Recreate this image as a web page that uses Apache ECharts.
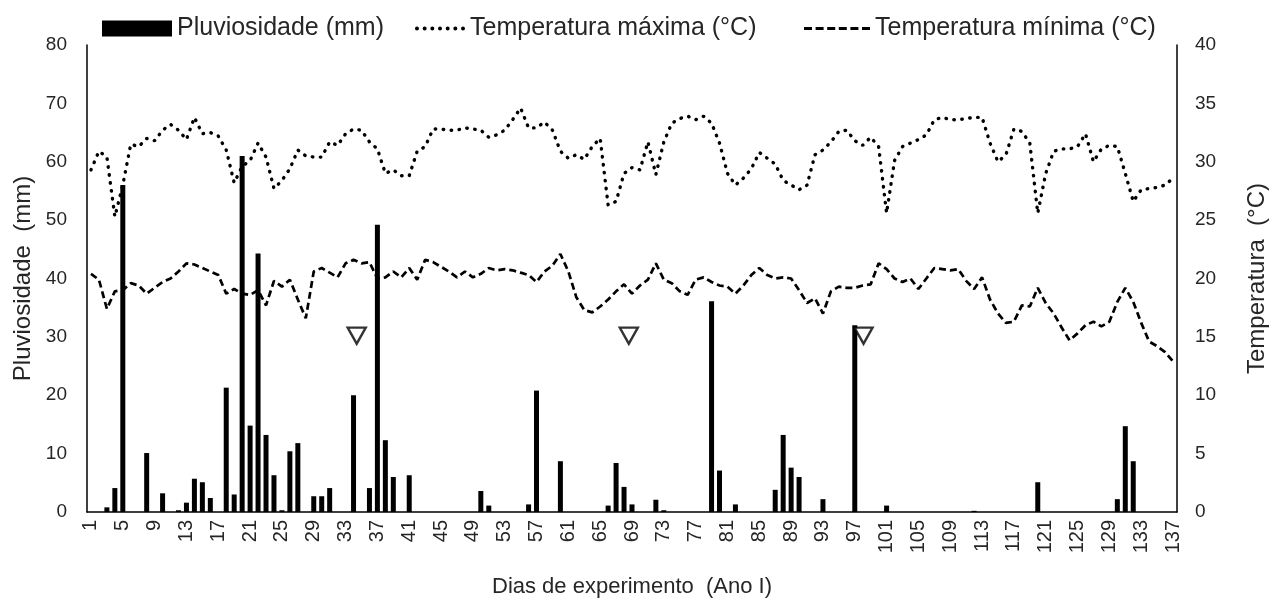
<!DOCTYPE html>
<html>
<head>
<meta charset="utf-8">
<script src="https://cdn.jsdelivr.net/npm/echarts@6/dist/echarts.min.js"></script>
<style>
html,body{margin:0;padding:0;background:#fff;}
#chart{width:1278px;height:608px;}
</style>
</head>
<body>
<div id="chart"></div>
<script>
// ---- data ----
const days = [];
for (let d = 1; d <= 137; d++) days.push(String(d));

const rain = [
  0, 0, 0.8, 4.1, 56, 0, 0, 10.1, 0, 3.2,
  0, 0.3, 1.6, 5.7, 5.1, 2.4, 0, 21.3, 3.0, 61,
  14.8, 44.3, 13.2, 6.3, 0.3, 10.4, 11.8, 0, 2.7, 2.7,
  4.1, 0, 0, 20, 0, 4.1, 49.2, 12.3, 6.0, 0,
  6.3, 0, 0, 0, 0, 0, 0, 0, 0, 3.6,
  1.1, 0, 0, 0, 0, 1.3, 20.8, 0, 0, 8.7,
  0, 0, 0, 0, 0, 1.1, 8.4, 4.3, 1.3, 0,
  0, 2.1, 0.3, 0, 0, 0, 0, 0, 36.1, 7.1,
  0, 1.3, 0, 0, 0, 0, 3.8, 13.2, 7.6, 6.0,
  0, 0, 2.2, 0, 0, 0, 32, 0, 0, 0,
  1.1, 0, 0, 0, 0, 0, 0, 0, 0, 0,
  0, 0.2, 0, 0, 0, 0, 0, 0, 0, 5.1,
  0, 0, 0, 0, 0, 0, 0, 0, 0, 2.2,
  14.7, 8.7, 0, 0, 0, 0, 0
];

const tmax = [
  29.3, 30.9, 30.4, 25.3, 28.0, 31.5, 31.3, 32.0, 31.8, 32.7,
  33.2, 32.7, 31.9, 33.8, 32.4, 32.5, 32.2, 31.0, 28.2, 29.6,
  30.1, 31.6, 30.4, 27.7, 28.4, 29.4, 31.0, 30.5, 30.4, 30.4,
  31.7, 31.4, 32.4, 32.8, 32.7, 31.7, 31.1, 29.0, 29.3, 28.8,
  28.8, 30.9, 31.3, 32.8, 32.8, 32.7, 32.7, 32.9, 32.8, 32.7,
  32.1, 32.3, 32.7, 33.6, 34.6, 32.9, 32.9, 33.4, 32.7, 30.9,
  30.3, 30.6, 30.2, 31.3, 32.0, 26.3, 26.6, 29.0, 29.5, 29.3,
  31.7, 28.9, 31.7, 33.3, 33.7, 33.9, 33.6, 33.9, 33.3, 31.6,
  29.0, 28.0, 28.6, 29.4, 30.8, 30.3, 29.8, 28.4, 28.0, 27.6,
  28.0, 30.6, 31.0, 31.7, 32.6, 32.7, 31.8, 31.4, 32.1, 31.3,
  25.6, 30.1, 31.3, 31.6, 31.9, 32.3, 33.6, 33.8, 33.6, 33.6,
  33.7, 33.8, 33.8, 31.6, 30.0, 30.6, 32.8, 32.6, 31.6, 25.6,
  29.0, 30.9, 31.1, 31.1, 31.3, 32.4, 30.0, 31.1, 31.4, 31.3,
  29.0, 26.6, 27.6, 27.7, 27.8, 28.0, 28.6
];

const tmin = [
  20.4, 19.9, 17.4, 18.9, 19.0, 19.6, 19.4, 18.7, 19.2, 19.7,
  20.0, 20.6, 21.3, 21.2, 20.9, 20.6, 20.3, 18.7, 19.1, 18.7,
  18.6, 19.0, 17.7, 19.8, 19.3, 19.9, 18.2, 16.6, 20.6, 20.9,
  20.5, 20.1, 21.3, 21.6, 21.3, 21.4, 20.0, 20.1, 20.6, 20.1,
  20.9, 19.9, 21.6, 21.4, 21.0, 20.6, 20.1, 20.6, 20.1, 20.4,
  20.9, 20.7, 20.8, 20.7, 20.5, 20.3, 19.7, 20.6, 21.1, 22.1,
  20.6, 18.4, 17.3, 17.1, 17.6, 18.2, 18.9, 19.5, 18.7, 19.4,
  19.9, 21.3, 19.9, 19.6, 18.9, 18.6, 19.9, 20.1, 19.7, 19.4,
  19.3, 18.7, 19.4, 20.3, 20.9, 20.3, 20.0, 20.1, 20.0, 19.0,
  17.9, 18.3, 17.0, 18.9, 19.3, 19.2, 19.2, 19.4, 19.5, 21.3,
  20.8, 20.0, 19.7, 20.0, 19.1, 20.0, 20.9, 20.8, 20.7, 20.8,
  19.8, 19.1, 20.1, 18.2, 17.0, 16.2, 16.3, 17.7, 17.6, 19.2,
  17.9, 17.0, 15.8, 14.7, 15.3, 16.0, 16.3, 15.9, 16.3, 18.0,
  19.2, 18.0, 16.2, 14.6, 14.2, 13.7, 12.9
];

// event markers (day position, rainfall-axis level)
const markerDays = [34.4, 68.6, 98.1];
const markerLevel = [30.2, 30.2, 30.2];

const rainTicks = { min: 0, max: 80, interval: 10 };
const tempTicks = { min: 0, max: 40, interval: 5 };

const names = {
  rain: 'Pluviosidade (mm)',
  tmax: 'Temperatura máxima (°C)',
  tmin: 'Temperatura mínima (°C)',
  x: 'Dias de experimento  (Ano I)',
  yl: 'Pluviosidade  (mm)',
  yr: 'Temperatura  (°C)'
};

// ---- legend icons (dotted / dashed line glyphs) ----
function dotIcon(n, d, step) {
  let p = 'path://';
  for (let i = 0; i < n; i++) {
    const cx = d / 2 + i * step, r = d / 2;
    p += 'M' + (cx - r) + ',' + r + 'a' + r + ',' + r + ' 0 1,0 ' + d + ',0a' + r + ',' + r + ' 0 1,0 ' + (-d) + ',0z';
  }
  return p;
}
function dashIcon(n, len, gap, h) {
  let p = 'path://';
  for (let i = 0; i < n; i++) {
    const x = i * (len + gap);
    p += 'M' + x + ',0h' + len + 'v' + h + 'h' + (-len) + 'z';
  }
  return p;
}

// ---- chart ----
const FONT = '"Liberation Sans", Arial, sans-serif';
const TXT = '#262626';
const chart = echarts.init(document.getElementById('chart'), null, { renderer: 'canvas' });

const legendText = { fontFamily: FONT, fontSize: 25, color: TXT };

const option = {
  animation: false,
  backgroundColor: '#fff',
  grid: { left: 87, right: 101, top: 45, bottom: 96 },
  legend: [
    { data: [names.rain], left: 97, top: 11, itemWidth: 70, itemHeight: 16, textStyle: legendText, icon: 'rect', selectedMode: false },
    { data: [{ name: names.tmax, icon: dotIcon(7, 4, 7.7) }], left: 410, top: 11, itemWidth: 50, itemHeight: 4, textStyle: legendText, selectedMode: false },
    { data: [{ name: names.tmin, icon: dashIcon(6, 8, 3.6, 3) }], left: 799, top: 11, itemWidth: 66, itemHeight: 3, textStyle: legendText, selectedMode: false }
  ],
  xAxis: [
    {
      type: 'category', data: days, boundaryGap: true,
      axisLine: { lineStyle: { color: '#000', width: 1.5 } },
      axisTick: { show: false },
      axisLabel: { interval: 3, rotate: 90, fontSize: 20, fontFamily: FONT, color: TXT, margin: 8 },
      name: names.x, nameLocation: 'middle', nameGap: 64,
      nameTextStyle: { fontSize: 22, fontFamily: FONT, color: TXT }
    },
    { type: 'value', min: 0.5, max: 137.5, show: false }
  ],
  yAxis: [
    {
      type: 'value', min: rainTicks.min, max: rainTicks.max, interval: rainTicks.interval,
      axisLine: { show: true, lineStyle: { color: '#000', width: 1.5 } },
      axisTick: { show: false }, splitLine: { show: false },
      axisLabel: { fontSize: 19, fontFamily: FONT, color: TXT, margin: 20 },
      name: names.yl, nameLocation: 'middle', nameGap: 50, nameRotate: 90,
      nameTextStyle: { fontSize: 24, fontFamily: FONT, color: TXT }
    },
    {
      type: 'value', position: 'right', min: tempTicks.min, max: tempTicks.max, interval: tempTicks.interval,
      axisLine: { show: true, lineStyle: { color: '#000', width: 1.5 } },
      axisTick: { show: false }, splitLine: { show: false },
      axisLabel: { fontSize: 19, fontFamily: FONT, color: TXT, margin: 18 },
      name: names.yr, nameLocation: 'middle', nameGap: 68, nameRotate: 90,
      nameTextStyle: { fontSize: 24, fontFamily: FONT, color: TXT }
    }
  ],
  series: [
    {
      name: names.rain, type: 'bar', data: rain, xAxisIndex: 0, yAxisIndex: 0,
      barWidth: 5, itemStyle: { color: '#000' }, z: 2
    },
    {
      name: names.tmax, type: 'line', data: tmax, xAxisIndex: 0, yAxisIndex: 1,
      symbol: 'none', smooth: false,
      lineStyle: { color: '#000', width: 3.4, type: [0.5, 7.5], cap: 'round' },
      itemStyle: { color: '#000' }, z: 3
    },
    {
      name: names.tmin, type: 'line', data: tmin, xAxisIndex: 0, yAxisIndex: 1,
      symbol: 'none',
      lineStyle: { color: '#000', width: 2.7, type: [7, 4] },
      itemStyle: { color: '#000' }, z: 3
    },
    {
      type: 'scatter', xAxisIndex: 1, yAxisIndex: 0,
      data: markerDays.map((d, i) => [d, markerLevel[i]]),
      symbol: 'triangle', symbolRotate: 180, symbolSize: [18, 16],
      itemStyle: { color: '#fff', borderColor: '#000', borderWidth: 2.4 }, z: 4
    }
  ]
};
chart.setOption(option);
</script>
</body>
</html>
